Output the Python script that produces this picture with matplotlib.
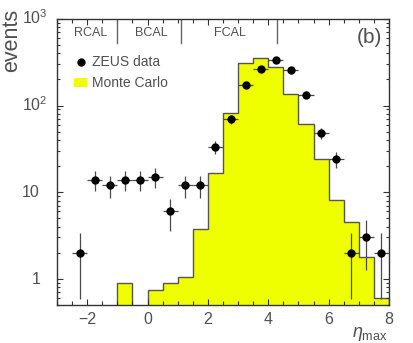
import numpy as np
import matplotlib
matplotlib.use("Agg")
import matplotlib.pyplot as plt
from matplotlib.lines import Line2D
from matplotlib.patches import Patch

plt.rcParams['font.family'] = ['Liberation Sans', 'DejaVu Sans']
plt.rcParams['mathtext.fontset'] = 'custom'
plt.rcParams['mathtext.rm'] = 'Liberation Sans'
plt.rcParams['mathtext.it'] = 'Liberation Sans:italic'

# ZEUS data points (bin centres, counts)
eta_data = [-2.25, -1.75, -1.25, -0.75, -0.25, 0.25, 0.75, 1.25, 1.75, 2.25, 2.75,
            3.25, 3.75, 4.25, 4.75, 5.25, 5.75, 6.25, 6.75, 7.25, 7.75]
counts = [2, 14, 12, 14, 14, 15, 6, 12, 12, 33, 70,
          171, 266, 338, 257, 134, 48, 24, 2, 3, 2]

# Monte Carlo histogram
mc_edges = np.arange(-3.0, 8.01, 0.5)
mc_vals = [0, 0, 0, 0, 0.9, 0, 0.74, 0.9, 1.04, 3.8, 16.5,
           83, 312, 356, 278, 137, 62, 24, 8.1, 4.5, 1.79, 0.6]

# calorimeter boundaries
cal_names = ["RCAL", "BCAL", "FCAL"]
cal_label_x = [-1.87, 0.13, 2.73]
cal_bounds = [-1.0, 1.1, 4.3]

ytick_vals = [1, 10, 100, 1000]
ytick_text = ["1", "10", r"$\mathregular{10^{2}}$", r"$\mathregular{10^{3}}$"]

txt = '#505050'
yellow = '#f0ff00'
edge = '#555555'

fig = plt.figure(figsize=(4.13, 3.43), dpi=100)
ax = fig.add_axes([0.138, 0.111, 0.804, 0.834])

mc = np.array(mc_vals, dtype=float)
floor = 0.3
mc_plot = np.where(mc > 0, mc, floor)
ax.stairs(mc_plot, mc_edges, baseline=floor, fill=True, color=yellow, lw=0)
ax.stairs(mc_plot, mc_edges, baseline=floor, fill=False, color=edge, lw=1.0)

counts = np.array(counts, dtype=float)
ax.errorbar(eta_data, counts, yerr=np.sqrt(counts), xerr=0.25, fmt='none',
            ecolor='#4a4a4a', elinewidth=0.9, capsize=0, zorder=3)
ax.plot(eta_data, counts, 'o', color='black', ms=5, zorder=4)

ax.set_yscale('log')
ax.set_xlim(-3, 8)
ax.set_ylim(0.5, 1000)

ax.set_xticks([-2, 0, 2, 4, 6, 8])
ax.set_xticks(np.arange(-3, 8.01, 0.5), minor=True)
ax.set_yticks(ytick_vals)
ax.set_yticklabels([])
ax.tick_params(which='both', direction='in', top=True, right=True, colors='#333333')
ax.tick_params(which='major', length=4.5, width=0.8, labelsize=11.5, labelcolor=txt, pad=5)
ax.tick_params(which='minor', length=2.5, width=0.8)
ax.tick_params(axis='x', which='minor', length=3.0)
for s in ax.spines.values():
    s.set_color('#333333')
    s.set_linewidth(1.0)

# log axis labels in the old style
for v, t in zip(ytick_vals, ytick_text):
    xoff = -25 if v == 1 else -35
    ax.annotate(t, xy=(0, v), xycoords=('axes fraction', 'data'),
                xytext=(xoff, -5), textcoords='offset pixels',
                ha='left', va='baseline', fontsize=11.5, color=txt)

# calorimeter regions
for b in cal_bounds:
    ax.axvline(b, ymin=0.916, ymax=1.0, color='#666666', lw=1.0)
for name, x in zip(cal_names, cal_label_x):
    ax.text(x, 0.949, name, transform=ax.get_xaxis_transform(),
            ha='center', va='center', fontsize=9, color=txt)

ax.text(0.941, 0.934, "(b)", transform=ax.transAxes, ha='center', va='center',
        fontsize=15, color=txt)

ax.text(-0.138, 0.925, "events", transform=ax.transAxes, rotation=90,
        ha='center', va='center', fontsize=15.5, color=txt)
ax.text(0.943, -0.1, r"$\eta_{\mathregular{max}}$", transform=ax.transAxes,
        ha='center', va='center', fontsize=13, color=txt)

handles = [Line2D([], [], marker='o', ls='none', color='black', ms=5),
           Patch(facecolor=yellow, edgecolor='none')]
ax.legend(handles, ["ZEUS data", "Monte Carlo"], loc='upper left',
          bbox_to_anchor=(0.051, 0.872), frameon=False, fontsize=10,
          handlelength=0.95, handletextpad=0.35, labelspacing=0.5,
          borderpad=0, borderaxespad=0, labelcolor=txt)

fig.savefig("out.png", dpi=100)
